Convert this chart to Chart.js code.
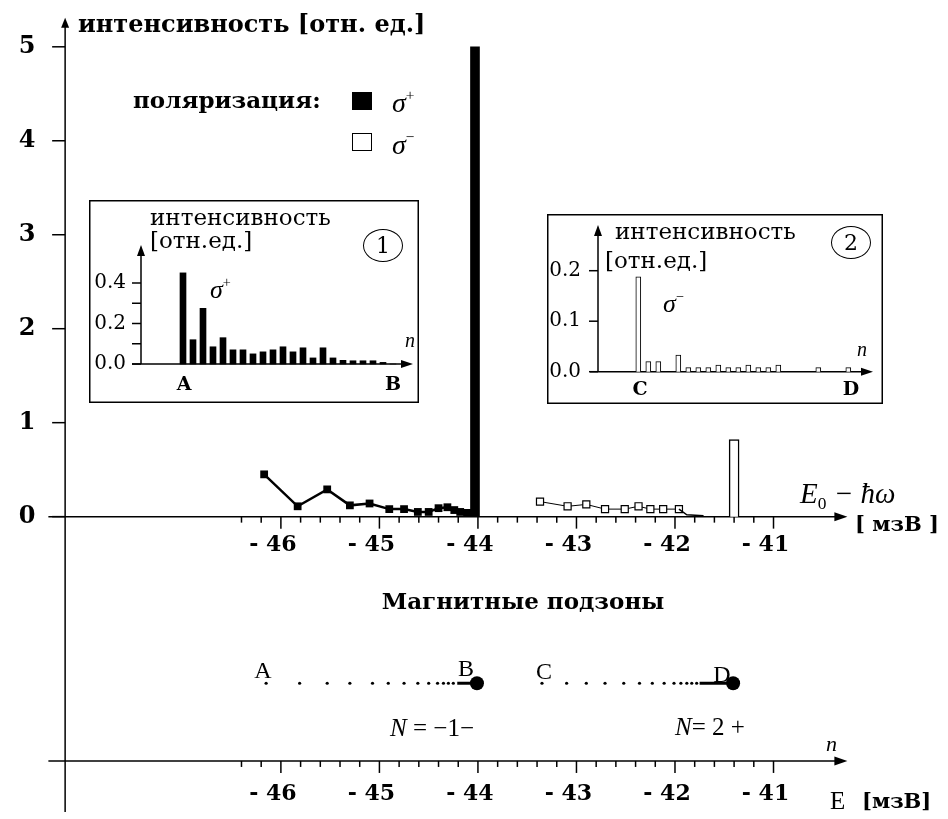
<!DOCTYPE html>
<html lang="ru">
<head>
<meta charset="utf-8">
<title>Интенсивность по магнитным подзонам</title>
<script src="https://cdn.jsdelivr.net/npm/chart.js@4.4.1/dist/chart.umd.min.js"></script>
<style>
  html, body { margin: 0; padding: 0; background: #fff; }
  #fig { position: relative; width: 948px; height: 819px; overflow: hidden; }
  #fig canvas { position: absolute; background: #fff; }
  .lab { position: absolute; white-space: nowrap; line-height: 1; color: #000; transform: translateY(-50%); }
  .ctr { transform: translate(-50%, -50%); }
  .b { font-family: "DejaVu Serif"; font-weight: bold; }
  .s { font-family: "DejaVu Serif"; }
  .it { font-family: "Liberation Serif"; font-style: italic; }
  .rm { font-family: "Liberation Serif"; }
  .up { position: relative; font-size: 0.55em; top: -0.75em; font-style: normal; }
  .dn { position: relative; font-size: 0.6em; top: 0.35em; font-style: normal; }
  .circ { position: absolute; border: 1.5px solid #000; border-radius: 50%; box-sizing: border-box;
          display: flex; align-items: center; justify-content: center; font-family: "DejaVu Serif"; font-size: 22px; }
  .sq { position: absolute; width: 20px; height: 18px; box-sizing: border-box; border: 1.5px solid #000; }
</style>
</head>
<body>
<div id="fig">
  <canvas id="mainChart" width="948" height="819" style="left:0;top:0"></canvas>
  <canvas id="inset1" width="330" height="203" style="left:89px;top:200px"></canvas>
  <canvas id="inset2" width="336" height="190" style="left:547px;top:214px"></canvas>

  <!-- основной график -->
  <div class="lab b" style="left:78px;top:24px;font-size:24px">интенсивность [отн. ед.]</div>
  <div class="lab b" style="left:133px;top:99px;font-size:23px">поляризация:</div>
  <div class="sq" style="left:352px;top:92px;background:#000"></div>
  <div class="sq" style="left:352px;top:133px;background:#fff"></div>
  <div class="lab it" style="left:392px;top:103px;font-size:28px">σ<span class="up">+</span></div>
  <div class="lab it" style="left:392px;top:145px;font-size:28px">σ<span class="up">−</span></div>
  <div class="lab it" style="left:800px;top:493px;font-size:29px">E<span class="dn">0</span> − ħω</div>
  <div class="lab b" style="left:855px;top:523px;font-size:21px">[ мзВ ]</div>
  <div class="lab b ctr" style="left:523px;top:600px;font-size:23px">Магнитные подзоны</div>
  <div class="lab rm ctr" style="left:263px;top:670px;font-size:24px">A</div>
  <div class="lab rm ctr" style="left:466px;top:668px;font-size:24px">B</div>
  <div class="lab rm ctr" style="left:544px;top:671px;font-size:24px">C</div>
  <div class="lab rm ctr" style="left:722px;top:674px;font-size:24px">D</div>
  <div class="lab it" style="left:390px;top:727px;font-size:25px">N<span style="font-style:normal"> = −1−</span></div>
  <div class="lab it" style="left:675px;top:726px;font-size:25px">N<span style="font-style:normal">= 2 +</span></div>
  <div class="lab it" style="left:826px;top:744px;font-size:22px">n</div>
  <div class="lab rm" style="left:830px;top:800px;font-size:25px">E</div>
  <div class="lab b" style="left:862px;top:800px;font-size:21px">[мзВ]</div>

  <!-- вставка 1 -->
  <div class="lab s" style="left:150px;top:217px;font-size:23px">интенсивность</div>
  <div class="lab s" style="left:150px;top:240px;font-size:23px">[отн.ед.]</div>
  <div class="circ" style="left:363px;top:229px;width:40px;height:33px">1</div>
  <div class="lab it" style="left:210px;top:290px;font-size:26px">σ<span class="up">+</span></div>
  <div class="lab it" style="left:405px;top:340px;font-size:20px">n</div>
  <div class="lab b ctr" style="left:184px;top:383px;font-size:19px">A</div>
  <div class="lab b ctr" style="left:393px;top:383px;font-size:19px">B</div>

  <!-- вставка 2 -->
  <div class="lab s" style="left:615px;top:231px;font-size:23px">интенсивность</div>
  <div class="lab s" style="left:605px;top:260px;font-size:23px">[отн.ед.]</div>
  <div class="circ" style="left:831px;top:226px;width:40px;height:33px">2</div>
  <div class="lab it" style="left:663px;top:304px;font-size:26px">σ<span class="up">−</span></div>
  <div class="lab it" style="left:857px;top:349px;font-size:20px">n</div>
  <div class="lab b ctr" style="left:640px;top:388px;font-size:19px">C</div>
  <div class="lab b ctr" style="left:851px;top:388px;font-size:19px">D</div>
</div>

<script>
// ---- данные ----
// σ+ : линия с квадратами (подзона N = -1-), энергия [мэВ] и интенсивность [отн. ед.]
const sigPlusE = [-46.17, -45.83, -45.53, -45.30, -45.10, -44.90, -44.75, -44.61, -44.50, -44.40, -44.31, -44.24, -44.18, -44.11];
const sigPlusI = [0.45, 0.11, 0.29, 0.12, 0.14, 0.08, 0.08, 0.05, 0.05, 0.09, 0.10, 0.07, 0.05, 0.04];
const peakPlusE = [-44.03];
const peakPlusI = [5.0];

// σ- : полые квадраты (подзона N = 2+)
const sigMinusE = [-43.37, -43.09, -42.90, -42.71, -42.51, -42.37, -42.25, -42.12, -41.96];
const sigMinusI = [0.16, 0.11, 0.13, 0.08, 0.08, 0.11, 0.08, 0.08, 0.08];
const tailMinusE = [-41.96, -41.88, -41.71];
const tailMinusI = [0.08, 0.02, 0.01];
const peakMinusE = [-41.40];
const peakMinusI = [0.82];

// уровни магнитных подзон (нижняя шкала)
const levelsAB = [-46.15, -45.81, -45.53, -45.30, -45.07, -44.91, -44.75, -44.61, -44.50, -44.41, -44.35, -44.30, -44.25];
const endAB = [-44.21, -44.01];
const levelsCD = [-43.35, -43.10, -42.90, -42.71, -42.52, -42.36, -42.23, -42.11, -42.01, -41.94, -41.88, -41.83, -41.78];
const endCD = [-41.75, -41.41];

// деления
const mainYTicks = [0, 1, 2, 3, 4, 5];
const energyTicks = [-46, -45, -44, -43, -42, -41];

// вставка 1 (σ+, от A до B)
const inset1I = [0.45, 0.12, 0.275, 0.085, 0.13, 0.07, 0.07, 0.05, 0.06, 0.07, 0.085, 0.06, 0.08, 0.03, 0.08, 0.03, 0.018, 0.016, 0.016, 0.016, 0.008, 0.0];
const inset1Ticks = [0, 0.1, 0.2, 0.3, 0.4];
const inset1Labels = ['0.0', '', '0.2', '', '0.4'];

// вставка 2 (σ-, от C до D)
const inset2I = [0.188, 0.02, 0.02, 0, 0.033, 0.008, 0.008, 0.008, 0.013, 0.008, 0.008, 0.013, 0.008, 0.008, 0.013, 0, 0, 0, 0.008, 0, 0, 0.008];
const inset2Ticks = [0, 0.1, 0.2];
const inset2Labels = ['0.0', '0.1', '0.2'];

// ---- геометрия основного графика (в единицах данных) ----
const X_MIN = -48.78, X_MAX = -39.30;     // 100 px на 1 мэВ
const Y_MIN = -3.1433, Y_MAX = 5.4236;    // 0 на y=518, ~95.6 px на единицу
const LEVEL_ROW = -1.773;                 // строка подзон
const LOWER_AXIS = -2.60;                 // нижняя ось E
const Y_AXIS_E = -48.19;                  // вертикальная ось

function seg(ctx, x0, y0, x1, y1) {
  ctx.beginPath(); ctx.moveTo(x0, y0); ctx.lineTo(x1, y1); ctx.stroke();
}
function head(ctx, x, y, dir, len, w) {
  ctx.beginPath();
  if (dir === 'right') { ctx.moveTo(x, y); ctx.lineTo(x - len, y - w / 2); ctx.lineTo(x - len, y + w / 2); }
  else { ctx.moveTo(x, y); ctx.lineTo(x - w / 2, y + len); ctx.lineTo(x + w / 2, y + len); }
  ctx.closePath(); ctx.fill();
}

// оси со стрелками, рисуются через шкалы Chart.js
const arrowAxes = {
  id: 'arrowAxes',
  beforeDatasetsDraw(chart, args, o) {
    const ctx = chart.ctx, sx = chart.scales.x, sy = chart.scales.y;
    ctx.save();
    ctx.strokeStyle = '#000'; ctx.fillStyle = '#000'; ctx.lineWidth = o.width;
    if (o.frame) ctx.strokeRect(0.75, 0.75, chart.width - 1.5, chart.height - 1.5);
    (o.h || []).forEach(a => {
      const y = sy.getPixelForValue(a.at);
      const x0 = sx.getPixelForValue(a.from), x1 = sx.getPixelForValue(a.to);
      seg(ctx, x0, y, x1 - a.head + 1, y);
      head(ctx, x1, y, 'right', a.head, a.headW);
      (a.ticks || []).forEach(t => { const x = sx.getPixelForValue(t.v); seg(ctx, x, y, x, y + t.len); });
      ctx.font = a.font; ctx.textAlign = 'center'; ctx.textBaseline = 'middle';
      (a.labels || []).forEach(l => ctx.fillText(l.text, sx.getPixelForValue(l.v) + a.dx, y + a.dy));
    });
    (o.v || []).forEach(a => {
      const x = sx.getPixelForValue(a.at);
      const y0 = sy.getPixelForValue(a.from), y1 = sy.getPixelForValue(a.to);
      seg(ctx, x, y0, x, y1 + a.head - 1);
      head(ctx, x, y1, 'up', a.head, a.headW);
      (a.ticks || []).forEach(t => { const y = sy.getPixelForValue(t.v); seg(ctx, x - t.len, y, x, y); });
      ctx.font = a.font; ctx.textAlign = a.align; ctx.textBaseline = 'middle';
      (a.labels || []).forEach(l => ctx.fillText(l.text, x + a.dx, sy.getPixelForValue(l.v)));
    });
    ctx.restore();
  }
};

// деления по энергии: каждые 0.2 мэВ от -46.4 до -41.0
const energyMinor = [];
for (let k = 0; k <= 27; k++) {
  const v = -46.4 + k * 0.2;
  energyMinor.push({ v: v, len: Math.abs(v - Math.round(v)) < 0.01 ? 12 : 6 });
}
const energyLabels = energyTicks.map(v => ({ v: v, text: '- ' + Math.abs(v) }));

const pts = (xs, ys) => xs.map((x, i) => ({ x: x, y: ys[i] }));
const row = (xs, y) => xs.map(x => ({ x: x, y: y }));

const hiddenScales = (xmin, xmax, ymin, ymax) => ({
  x: { type: 'linear', display: false, min: xmin, max: xmax, offset: false },
  y: { type: 'linear', display: false, min: ymin, max: ymax }
});

new Chart(document.getElementById('mainChart'), {
  type: 'line',
  data: {
    datasets: [
      { // σ+ пик
        type: 'bar', data: pts(peakPlusE, peakPlusI), backgroundColor: '#000',
        barThickness: 9, grouped: false
      },
      { // σ- пик
        type: 'bar', data: pts(peakMinusE, peakMinusI), backgroundColor: '#fff',
        borderColor: '#000', borderWidth: 1.5, barThickness: 10, grouped: false
      },
      { // σ+ линия
        data: pts(sigPlusE, sigPlusI), borderColor: '#000', borderWidth: 2.5,
        pointStyle: 'rect', pointRadius: 5.5, pointBackgroundColor: '#000', pointBorderWidth: 0
      },
      { // σ- хвост у оси
        data: pts(tailMinusE, tailMinusI), borderColor: '#000', borderWidth: 1.5, pointRadius: 0
      },
      { // σ- линия
        data: pts(sigMinusE, sigMinusI), borderColor: '#000', borderWidth: 1,
        pointStyle: 'rect', pointRadius: 5, pointBackgroundColor: '#fff',
        pointBorderColor: '#000', pointBorderWidth: 1.2
      },
      { // подзоны A..B
        data: row(levelsAB, LEVEL_ROW), showLine: false, pointRadius: 1.6,
        pointBackgroundColor: '#000', pointBorderWidth: 0
      },
      {
        data: row(endAB, LEVEL_ROW), borderColor: '#000', borderWidth: 3,
        pointRadius: [0, 7], pointBackgroundColor: '#000', pointBorderWidth: 0
      },
      { // подзоны C..D
        data: row(levelsCD, LEVEL_ROW), showLine: false, pointRadius: 1.6,
        pointBackgroundColor: '#000', pointBorderWidth: 0
      },
      {
        data: row(endCD, LEVEL_ROW), borderColor: '#000', borderWidth: 3,
        pointRadius: [0, 7], pointBackgroundColor: '#000', pointBorderWidth: 0
      }
    ]
  },
  options: {
    responsive: false,
    animation: false,
    layout: { padding: 0 },
    scales: hiddenScales(X_MIN, X_MAX, Y_MIN, Y_MAX),
    plugins: {
      legend: { display: false },
      tooltip: { enabled: false },
      arrowAxes: {
        width: 1.5,
        h: [
          { at: 0, from: -48.36, to: -40.25, head: 13, headW: 9, ticks: energyMinor,
            labels: energyLabels, font: 'bold 22px "DejaVu Serif"', dx: -8, dy: 29 },
          { at: LOWER_AXIS, from: -48.36, to: -40.25, head: 13, headW: 9, ticks: energyMinor,
            labels: energyLabels, font: 'bold 22px "DejaVu Serif"', dx: -8, dy: 33 }
        ],
        v: [
          { at: Y_AXIS_E, from: Y_MIN, to: 5.31, head: 10, headW: 8,
            ticks: mainYTicks.map(v => ({ v: v, len: 13 })),
            labels: mainYTicks.map(v => ({ v: v, text: String(v) })),
            font: 'bold 24px "DejaVu Serif"', align: 'center', dx: -38 }
        ]
      }
    }
  },
  plugins: [arrowAxes]
});

// ---- вставки ----
function insetChart(id, values, fill, thickness, xr, yr, axes) {
  return new Chart(document.getElementById(id), {
    type: 'bar',
    data: {
      datasets: [{
        data: values.map((v, i) => ({ x: i, y: v })),
        backgroundColor: fill, borderColor: '#000',
        borderWidth: fill === '#000' ? 0 : 1, borderSkipped: 'start',
        barThickness: thickness, grouped: false
      }]
    },
    options: {
      responsive: false,
      animation: false,
      layout: { padding: 0 },
      scales: hiddenScales(xr[0], xr[1], yr[0], yr[1]),
      plugins: { legend: { display: false }, tooltip: { enabled: false }, arrowAxes: axes }
    },
    plugins: [arrowAxes]
  });
}

insetChart('inset1', inset1I, '#000', 6, [-9.4, 23.6], [-0.1926, 0.8099], {
  width: 1.5, frame: true,
  h: [{ at: 0, from: -5.1, to: 23.0, head: 12, headW: 8 }],
  v: [{ at: -4.2, from: 0, to: 0.5877, head: 11, headW: 8,
        ticks: inset1Ticks.map(v => ({ v: v, len: 9 })),
        labels: inset1Ticks.map((v, i) => ({ v: v, text: inset1Labels[i] })),
        font: '20px "DejaVu Serif"', align: 'right', dx: -15 }]
});

insetChart('inset2', inset2I, '#fff', 5, [-9.13, 24.47], [-0.06396, 0.31228], {
  width: 1.5, frame: true,
  h: [{ at: 0, from: -4.83, to: 23.47, head: 12, headW: 8 }],
  v: [{ at: -4.03, from: 0, to: 0.2905, head: 11, headW: 8,
        ticks: inset2Ticks.map(v => ({ v: v, len: 9 })),
        labels: inset2Ticks.map((v, i) => ({ v: v, text: inset2Labels[i] })),
        font: '20px "DejaVu Serif"', align: 'right', dx: -17 }]
});
</script>
</body>
</html>
